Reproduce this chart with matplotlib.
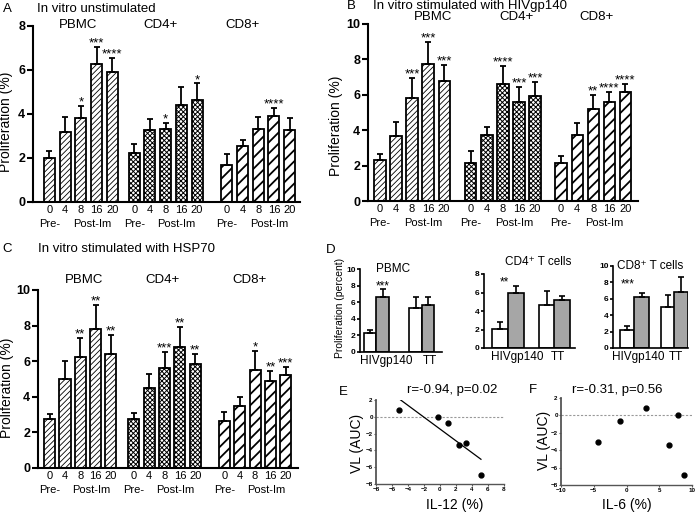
import numpy as np
import matplotlib
matplotlib.use('Agg')
import matplotlib.pyplot as plt
from matplotlib.transforms import blended_transform_factory

plt.rcParams['font.family'] = ['Liberation Sans', 'DejaVu Sans']

# ---------------- data ----------------
timepoints = ['0', '4', '8', '16', '20']
cell_groups = ['PBMC', 'CD4+', 'CD8+']

# Panel A: in vitro unstimulated (mean, SEM)
a_pbmc_mean = [2.00, 3.18, 3.83, 6.26, 5.91]
a_pbmc_sem = [0.32, 0.68, 0.55, 0.80, 0.65]
a_cd4_mean = [2.23, 3.26, 3.33, 4.39, 4.65]
a_cd4_sem = [0.39, 0.53, 0.26, 0.84, 0.74]
a_cd8_mean = [1.67, 2.55, 3.33, 3.91, 3.29]
a_cd8_sem = [0.50, 0.28, 0.53, 0.38, 0.53]
a_pbmc_stars = ['', '', '*', '***', '****']
a_cd4_stars = ['', '', '*', '', '*']
a_cd8_stars = ['', '', '', '****', '']

# Panel B: stimulated with HIVgp140
b_pbmc_mean = [2.30, 3.67, 5.80, 7.72, 6.78]
b_pbmc_sem = [0.36, 0.77, 1.15, 1.26, 0.90]
b_cd4_mean = [2.13, 3.71, 6.59, 5.61, 5.95]
b_cd4_sem = [0.71, 0.45, 1.06, 0.83, 0.77]
b_cd8_mean = [2.13, 3.75, 5.18, 5.61, 6.14]
b_cd8_sem = [0.43, 0.64, 0.81, 0.53, 0.47]
b_pbmc_stars = ['', '', '***', '***', '***']
b_cd4_stars = ['', '', '****', '***', '***']
b_cd8_stars = ['', '', '**', '****', '****']

# Panel C: stimulated with HSP70
c_pbmc_mean = [2.73, 5.00, 6.22, 7.81, 6.40]
c_pbmc_sem = [0.30, 1.01, 1.10, 1.35, 1.07]
c_cd4_mean = [2.77, 4.48, 5.60, 6.82, 5.82]
c_cd4_sem = [0.34, 0.82, 0.92, 1.12, 0.58]
c_cd8_mean = [2.62, 3.48, 5.52, 4.91, 5.21]
c_cd8_sem = [0.53, 0.49, 1.07, 0.52, 0.46]
c_pbmc_stars = ['', '', '**', '**', '**']
c_cd4_stars = ['', '', '***', '**', '**']
c_cd8_stars = ['', '', '*', '**', '***']

# Panel D: pre (white) vs post (grey) immunisation
d_conditions = ['HIVgp140', 'TT']
d_pbmc_pre = [2.30, 5.28]
d_pbmc_pre_sem = [0.35, 1.32]
d_pbmc_post = [6.68, 5.68]
d_pbmc_post_sem = [0.92, 1.00]
d_cd4_pre = [2.08, 4.70]
d_cd4_pre_sem = [0.68, 1.46]
d_cd4_post = [5.95, 5.20]
d_cd4_post_sem = [0.79, 0.43]
d_cd8_pre = [2.15, 5.00]
d_cd8_pre_sem = [0.49, 1.50]
d_cd8_post = [6.22, 6.83]
d_cd8_post_sem = [0.48, 1.77]

# Panels E/F: viral load vs cytokine
vl_auc = [0.80, 0.00, -0.70, -3.40, -3.08, -6.90]
il12 = [-5.08, -0.29, 1.04, 2.42, 3.25, 5.12]
il6 = [2.91, 7.91, -0.97, 6.53, -4.39, 8.72]

# ---------------- figure ----------------
W, H = 696, 513
fig = plt.figure(figsize=(W / 100, H / 100), dpi=100)


def ax_at(x0, y0, x1, y1):
    return fig.add_axes([x0 / W, 1 - y1 / H, (x1 - x0) / W, (y1 - y0) / H])


def ftext(x, y, s, **kw):
    kw.setdefault('ha', 'center')
    kw.setdefault('va', 'center')
    fig.text(x / W, 1 - y / H, s, **kw)


hatch_styles = {'PBMC': ('//////', 0.6), 'CD4+': ('xxxxxxx', 0.7), 'CD8+': ('///', 1.3)}


def bar_panel(ax, offsets, means_list, sems_list, stars_list, width, ymax, xlim):
    xs_all = []
    for g, off, m, s, st in zip(cell_groups, offsets, means_list, sems_list, stars_list):
        x = off + np.arange(len(timepoints))
        xs_all.extend(x)
        bars = ax.bar(x, m, width=width, facecolor='white', edgecolor='black',
                      linewidth=1.3, hatch=hatch_styles[g][0], zorder=2)
        for b in bars:
            if hasattr(b, 'set_hatch_linewidth'):
                b.set_hatch_linewidth(hatch_styles[g][1])
        ax.errorbar(x, m, yerr=[np.zeros(len(m)), s], fmt='none', ecolor='black',
                    elinewidth=1.3, capsize=2.5, capthick=1.3, zorder=3)
        tops = np.array(m) + np.array(s)
        for xi, t, lab in zip(x, tops, st):
            if lab:
                ax.annotate(lab, (xi, t), xytext=(0, 0.3), textcoords='offset points',
                            ha='center', va='baseline', fontsize=9.5)
        trans = blended_transform_factory(ax.transData, ax.transAxes)
        ax.annotate('Pre-', (off, 0), xycoords=trans, xytext=(0, -15.5),
                    textcoords='offset points', ha='center', va='center', fontsize=8)
        ax.annotate('Post-Im', (off + 2.7, 0), xycoords=trans, xytext=(0, -15.5),
                    textcoords='offset points', ha='center', va='center', fontsize=8)
    ax.set_xticks(xs_all)
    ax.set_xticklabels(timepoints * len(cell_groups))
    ax.set_xlim(*xlim)
    ax.set_ylim(0, ymax)
    ax.set_yticks(np.arange(0, ymax + 0.1, 2))
    for sp in ['top', 'right']:
        ax.spines[sp].set_visible(False)
    ax.spines['left'].set_linewidth(1.5)
    ax.spines['bottom'].set_linewidth(1.5)
    ax.tick_params(axis='y', length=4, width=1.5, labelsize=9, pad=1.5)
    for lab in ax.get_yticklabels():
        lab.set_fontweight('bold')
    ax.tick_params(axis='x', length=0, labelsize=8, pad=2.5)
    ax.patch.set_alpha(0)


# ---- Panel A ----
axA = ax_at(33, 26, 300, 202)
bar_panel(axA, [0, 5.4, 11.3], [a_pbmc_mean, a_cd4_mean, a_cd8_mean],
          [a_pbmc_sem, a_cd4_sem, a_cd8_sem], [a_pbmc_stars, a_cd4_stars, a_cd8_stars],
          0.7, 8, (-1.05, 15.96))
ftext(7, 9, 'A', fontsize=9.5)
ftext(37, 9, 'In vitro unstimulated', ha='left', fontsize=9.5)
ftext(78, 25, 'PBMC', fontsize=9.5)
ftext(160, 25, 'CD4+', fontsize=9.5)
ftext(242, 25, 'CD8+', fontsize=9.5)
ftext(6, 122, 'Proliferation (%)', rotation=90, fontsize=10)

# ---- Panel B ----
axB = ax_at(368, 24, 638, 201)
bar_panel(axB, [0, 5.67, 11.3], [b_pbmc_mean, b_cd4_mean, b_cd8_mean],
          [b_pbmc_sem, b_cd4_sem, b_cd8_sem], [b_pbmc_stars, b_cd4_stars, b_cd8_stars],
          0.7, 10, (-0.75, 16.1))
ftext(351, 6, 'B', fontsize=9.5)
ftext(373, 6, 'In vitro stimulated with HIVgp140', ha='left', fontsize=9.5)
ftext(433, 17, 'PBMC', fontsize=9.5)
ftext(516, 17, 'CD4+', fontsize=9.5)
ftext(597, 17, 'CD8+', fontsize=9.5)
ftext(336, 126, 'Proliferation (%)', rotation=90, fontsize=10)

# ---- Panel C ----
axC = ax_at(38, 290, 298, 468)
bar_panel(axC, [0, 5.5, 11.4], [c_pbmc_mean, c_cd4_mean, c_cd8_mean],
          [c_pbmc_sem, c_cd4_sem, c_cd8_sem], [c_pbmc_stars, c_cd4_stars, c_cd8_stars],
          0.72, 10, (-0.76, 16.2))
ftext(7, 249, 'C', fontsize=9.5)
ftext(38, 249, 'In vitro stimulated with HSP70', ha='left', fontsize=9.5)
ftext(84, 280, 'PBMC', fontsize=9.5)
ftext(163, 280, 'CD4+', fontsize=9.5)
ftext(250, 280, 'CD8+', fontsize=9.5)
ftext(7, 388, 'Proliferation (%)', rotation=90, fontsize=10)


# ---- Panel D ----
def d_panel(ax, pos, pre, pre_sem, post, post_sem, ymax, xlim, lab_pos, title, title_xy, star, star_xy):
    pos = np.array(pos)
    xw = pos[[0, 2]]
    xg = pos[[1, 3]]
    ax.bar(xw, pre, width=1.0, facecolor='white', edgecolor='black', linewidth=1.2, zorder=2)
    ax.bar(xg, post, width=1.0, facecolor='#a6a6a6', edgecolor='black', linewidth=1.2, zorder=2)
    ax.errorbar(xw, pre, yerr=[np.zeros(2), pre_sem], fmt='none', ecolor='black',
                elinewidth=1.2, capsize=2.2, capthick=1.2, zorder=3)
    ax.errorbar(xg, post, yerr=[np.zeros(2), post_sem], fmt='none', ecolor='black',
                elinewidth=1.2, capsize=2.2, capthick=1.2, zorder=3)
    ax.set_xlim(*xlim)
    ax.set_ylim(0, ymax)
    ax.set_yticks(np.arange(0, ymax + 0.1, 2))
    ax.set_xticks(lab_pos)
    ax.set_xticklabels(d_conditions)
    for sp in ['top', 'right']:
        ax.spines[sp].set_visible(False)
    ax.spines['left'].set_linewidth(1.2)
    ax.spines['bottom'].set_linewidth(1.2)
    ax.tick_params(axis='y', length=2.5, width=1.2, labelsize=6, pad=0.5)
    for lab in ax.get_yticklabels():
        lab.set_fontweight('bold')
    ax.tick_params(axis='x', length=0, labelsize=8.5, pad=2)
    ax.text(title_xy[0], title_xy[1], title, ha='center', va='center', fontsize=8.5, clip_on=False)
    ax.text(star_xy[0], star_xy[1], star, ha='center', va='center', fontsize=8.5)
    ax.patch.set_alpha(0)


axD1 = ax_at(360, 269, 442, 352)
d_panel(axD1, [0, 1, 3.6, 4.6], d_pbmc_pre, d_pbmc_pre_sem, d_pbmc_post, d_pbmc_post_sem,
        10, (-0.8, 5.7), [1.25, 4.75], 'PBMC', (1.8, 10.0), '***', (1.0, 7.9))
axD2 = ax_at(484, 274, 575, 348)
d_panel(axD2, [0, 1, 2.94, 3.9], d_cd4_pre, d_cd4_pre_sem, d_cd4_post, d_cd4_post_sem,
        8, (-1.0, 4.7), [1.1, 3.6], 'CD4\u207a T cells', (2.4, 9.3), '**', (0.3, 7.1))
axD3 = ax_at(613, 266, 688, 348)
d_panel(axD3, [0, 1, 2.83, 3.72], d_cd8_pre, d_cd8_pre_sem, d_cd8_post, d_cd8_post_sem,
        10, (-0.97, 4.2), [0.75, 3.35], 'CD8\u207a T cells', (1.6, 10.0), '***', (0.05, 7.8))
ftext(331, 250, 'D', fontsize=9.5)
ftext(340, 308, 'Proliferation (percent)', rotation=90, fontsize=7.5)


# ---- Panels E / F ----
def scatter_panel(ax, x, y, xlim, xticks, fit):
    ax.axhline(0, color='#999999', lw=0.8, ls=(0, (2, 1.5)), zorder=1)
    ax.plot(x, y, 'o', color='black', ms=3.5, zorder=3)
    if fit:
        k, b = np.polyfit(x, y, 1)
        xx = np.array([min(x), max(x)])
        ax.plot(xx, k * xx + b, color='black', lw=0.9, zorder=2)
    ax.set_xlim(*xlim)
    ax.set_ylim(-8, 2)
    ax.set_xticks(xticks)
    ax.set_yticks(np.arange(-8, 2.1, 2))
    for sp in ['top', 'right']:
        ax.spines[sp].set_visible(False)
    ax.spines['left'].set_color('#555555')
    ax.spines['bottom'].set_color('#555555')
    ax.spines['left'].set_linewidth(1.3)
    ax.spines['bottom'].set_linewidth(1.0)
    ax.tick_params(length=1.5, width=0.8, labelsize=4.5, pad=0.8, color='#555555')
    for lab in ax.get_xticklabels() + ax.get_yticklabels():
        lab.set_fontweight('bold')
    ax.patch.set_alpha(0)


axE = ax_at(376, 400, 504, 484)
scatter_panel(axE, il12, vl_auc, (-8, 8), np.arange(-8, 8.1, 2), True)
ftext(343, 392, 'E', fontsize=9.5)
ftext(452, 390, 'r=-0.94, p=0.02', fontsize=9.5)
ftext(455, 505, 'IL-12 (%)', fontsize=10)
ftext(357, 443, 'VL (AUC)', rotation=90, fontsize=10)

axF = ax_at(561, 398, 692, 485)
scatter_panel(axF, il6, vl_auc, (-10, 10), [-10, -5, 0, 5, 10], False)
ftext(533, 390, 'F', fontsize=9.5)
ftext(617, 390, 'r=-0.31, p=0.56', fontsize=9.5)
ftext(627, 505, 'IL-6 (%)', fontsize=10)
ftext(544, 440, 'VL (AUC)', rotation=90, fontsize=10)

fig.savefig('out.png', dpi=100)
